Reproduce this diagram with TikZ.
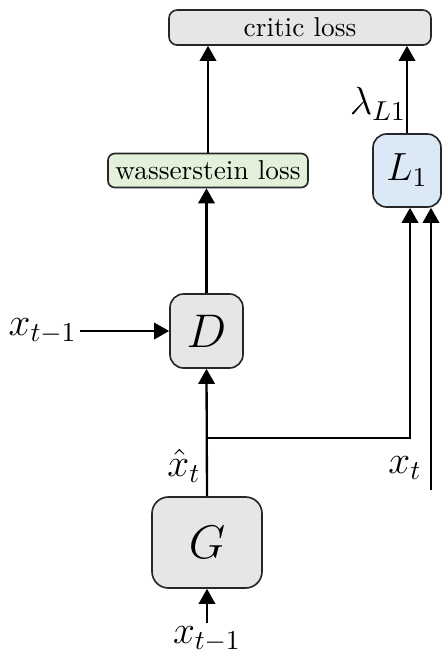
\documentclass[tikz,border=0pt]{standalone}
\usetikzlibrary{arrows.meta}
\def\pxu{0.3663pt}
\definecolor{boxgray}{HTML}{E6E6E6}
\definecolor{boxgreen}{HTML}{E3F1DA}
\definecolor{boxblue}{HTML}{DBE8F6}
\tikzset{
  box/.style={draw=black!85, line width=0.6pt, inner sep=0pt, align=center},
  arr/.style={line width=0.85pt, -{Triangle[length=5.5pt,width=6pt]}},
}
\begin{document}
\begin{tikzpicture}[x=\pxu, y=-\pxu]
\useasboundingbox (0,0) rectangle (443,652);
\node[box, fill=boxgray, rounded corners=3pt, minimum width=262*\pxu, minimum height=35*\pxu] (critic) at (300,27.5) {critic loss};
\node[box, fill=boxgreen, rounded corners=2.5pt, minimum width=200*\pxu, minimum height=34*\pxu] (wass) at (208,170.5) {wasserstein loss};
\node[box, fill=boxblue, rounded corners=5pt, minimum width=68*\pxu, minimum height=73*\pxu] (L1) at (407,170.5) {\Large $L_1$};
\node[box, fill=boxgray, rounded corners=5pt, minimum width=73*\pxu, minimum height=74*\pxu] (D) at (206.5,331) {\LARGE $D$};
\node[box, fill=boxgray, rounded corners=6pt, minimum width=110*\pxu, minimum height=91*\pxu] (G) at (207,542.5) {\LARGE $G$};
\node[inner sep=1pt, anchor=east] (xin) at (80,331) {\Large $x_{t-1}$};
\node[inner sep=1pt, anchor=north] (xbot) at (207,623) {\Large $x_{t-1}$};
\node (xhat) at (184,466) {\Large $\hat{x}_t$};
\node (xt) at (405,468) {\Large $x_t$};
\node (lam) at (378,104) {\Large $\lambda_{L1}$};
\coordinate (br) at (207,438);
\coordinate (xtend) at (431,490);
\draw[arr] (wass.north) -- (wass.north |- critic.south);
\draw[arr] (L1.north) -- (L1.north |- critic.south);
\draw[arr] (D.north) -- (D.north |- wass.south);
\draw[arr] (xin.east) -- (D.west);
\draw[arr] (G.north) -- (D.south);
\draw[arr] (xbot.north) -- (G.south);
\draw[arr] (br) -| ([xshift=3*\pxu]L1.south);
\draw[arr] (xtend) -- (xtend |- L1.south);
\end{tikzpicture}
\end{document}
